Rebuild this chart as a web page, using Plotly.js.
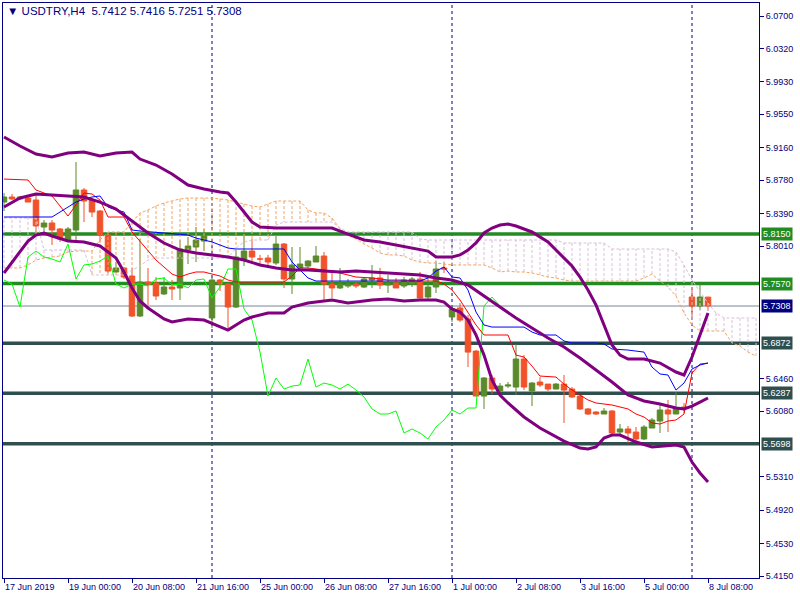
<!DOCTYPE html>
<html><head><meta charset="utf-8">
<script src="https://cdn.plot.ly/plotly-3.0.1.min.js"></script>
<style>html,body{margin:0;padding:0;background:#fff}#chart{width:800px;height:600px}</style>
</head><body><div id="chart"></div>
<script>
// ---- OHLC (H4 bars, index 0 = 17 Jun 2019 16:00) ----
const open  = [5.8524,5.8583,5.8560,5.8571,5.8548,5.8232,5.8279,5.8209,5.8080,5.8197,
5.8665,5.8548,5.8419,5.8138,5.7706,5.7753,5.7659,5.7191,5.7589,5.7577,
5.7449,5.7530,5.7519,5.7963,5.7998,5.8068,5.7168,5.7612,5.7565,5.7296,
5.7858,5.7951,5.7858,5.7869,5.7811,5.8033,5.7624,5.7753,5.7776,5.7823,
5.7893,5.7565,5.7519,5.7542,5.7565,5.7530,5.7612,5.7636,5.7554,5.7577,
5.7542,5.7565,5.7624,5.7413,5.7530,5.7753,5.7180,5.7285,5.7156,5.6781,
5.6255,5.6466,5.6314,5.6372,5.6360,5.6688,5.6314,5.6419,5.6395,5.6337,
5.6395,5.6337,5.6255,5.6104,5.6068,5.6045,5.6080,5.5834,5.5870,5.5834,
5.5753,5.5881,5.5963,5.6092,5.6045,5.6127,5.7413,5.7308,5.7412];
const high  = [5.8630,5.8618,5.8595,5.8606,5.8606,5.8314,5.8314,5.8220,5.8232,5.8992,
5.8688,5.8571,5.8431,5.8150,5.7823,5.7764,5.7753,5.8092,5.7753,5.7647,
5.7647,5.7612,5.8080,5.8115,5.8232,5.8209,5.7636,5.7624,5.7577,5.7963,
5.8162,5.8092,5.7905,5.7905,5.8127,5.8045,5.7998,5.7998,5.7846,5.8010,
5.7940,5.7694,5.7753,5.7624,5.7589,5.7636,5.7788,5.7753,5.7671,5.7636,
5.7647,5.7647,5.7706,5.7636,5.7834,5.7823,5.7320,5.7343,5.7203,5.6793,
5.6477,5.6501,5.6407,5.6419,5.6864,5.6734,5.6419,5.6477,5.6395,5.6407,
5.6501,5.6360,5.6267,5.6115,5.6080,5.6115,5.6092,5.5928,5.5905,5.5893,
5.5916,5.5998,5.6150,5.6209,5.6302,5.6174,5.7519,5.7565,5.7416];
const low   = [5.8419,5.8548,5.8548,5.8524,5.8138,5.8127,5.8022,5.8057,5.8057,5.8080,
5.8290,5.8349,5.8057,5.7694,5.7694,5.7624,5.7180,5.7180,5.7320,5.7378,
5.7437,5.7378,5.7378,5.7799,5.7823,5.7951,5.7051,5.7484,5.7039,5.7285,
5.7776,5.7834,5.7799,5.7764,5.7788,5.7519,5.7449,5.7729,5.7753,5.7823,
5.7378,5.7402,5.7507,5.7519,5.7519,5.7519,5.7519,5.7507,5.7460,5.7519,
5.7519,5.7530,5.7402,5.7378,5.7460,5.7694,5.7121,5.7121,5.6594,5.6255,
5.6104,5.6279,5.6267,5.6349,5.6267,5.6325,5.6138,5.6360,5.6314,5.6337,
5.5940,5.6232,5.6092,5.6033,5.6033,5.6045,5.5788,5.5799,5.5706,5.5729,
5.5741,5.5881,5.5823,5.5834,5.6045,5.6057,5.7180,5.7261,5.7251];
const close = [5.8583,5.8560,5.8583,5.8524,5.8244,5.8279,5.8197,5.8092,5.8209,5.8665,
5.8536,5.8407,5.8138,5.7717,5.7753,5.7647,5.7191,5.7589,5.7565,5.7425,
5.7530,5.7507,5.7975,5.8010,5.8080,5.8138,5.7612,5.7565,5.7296,5.7881,
5.7951,5.7881,5.7858,5.7823,5.8033,5.7624,5.7788,5.7799,5.7834,5.7893,
5.7565,5.7519,5.7565,5.7565,5.7542,5.7624,5.7636,5.7554,5.7565,5.7519,
5.7612,5.7624,5.7402,5.7530,5.7741,5.7741,5.7273,5.7144,5.6769,5.6255,
5.6466,5.6337,5.6372,5.6384,5.6688,5.6360,5.6407,5.6384,5.6337,5.6395,
5.6325,5.6244,5.6104,5.6045,5.6045,5.6080,5.5823,5.5870,5.5823,5.5753,
5.5893,5.5975,5.6092,5.6045,5.6115,5.6115,5.7308,5.7413,5.7308];

// ---- Bollinger Bands (bar index, price) ----
const bbUpperIdx = [0,2,4,6,8,10,12,14,16,17,19,21,23,25,27,28,29,30,31,32,34,36,38,41,43,45,47,49,51,53,54,56,57,58,59,60,61,62,63,64,66,67,68,69,70,71,72,73,74,75,76,77,78,80,82,84,85,86,87,88];
const bbUpper    = [5.9285,5.9179,5.9086,5.9051,5.9097,5.9109,5.9062,5.9097,5.9109,5.9027,5.8957,5.8852,5.8723,5.8676,5.8641,5.8630,5.8524,5.8407,5.8290,5.8232,5.8220,5.8220,5.8220,5.8220,5.8150,5.8080,5.8057,5.8022,5.7986,5.7951,5.7881,5.7881,5.7905,5.7963,5.8045,5.8162,5.8220,5.8255,5.8267,5.8244,5.8174,5.8115,5.8057,5.7963,5.7869,5.7776,5.7647,5.7495,5.7320,5.7086,5.6852,5.6734,5.6688,5.6688,5.6641,5.6536,5.6501,5.6711,5.6969,5.7226];
const bbMidIdx = [0,2,4,6,8,10,12,14,16,18,20,22,24,26,28,30,32,34,36,38,40,42,44,46,48,50,52,54,56,58,60,62,64,66,68,70,72,74,76,78,80,82,84,85,86,87,88];
const bbMid    = [5.8466,5.8571,5.8618,5.8606,5.8595,5.8583,5.8524,5.8443,5.8302,5.8162,5.8045,5.7963,5.7928,5.7905,5.7881,5.7846,5.7788,5.7753,5.7729,5.7729,5.7717,5.7706,5.7717,5.7706,5.7694,5.7682,5.7671,5.7636,5.7612,5.7554,5.7425,5.7296,5.7168,5.7051,5.6934,5.6829,5.6700,5.6560,5.6419,5.6267,5.6197,5.6162,5.6115,5.6104,5.6138,5.6185,5.6232];
const bbLowerIdx = [0,1,2,3,4,5,6,8,10,12,14,15,16,17,18,20,21,23,25,27,28,29,30,31,33,35,36,38,41,43,46,48,50,52,54,55,56,57,58,59,60,61,62,63,65,67,70,72,73,74,75,76,77,79,81,84,85,86,87,88];
const bbLower    = [5.7694,5.7823,5.7940,5.8068,5.8138,5.8162,5.8127,5.8068,5.8057,5.8010,5.7869,5.7706,5.7519,5.7367,5.7285,5.7156,5.7121,5.7156,5.7144,5.7062,5.7027,5.7086,5.7144,5.7179,5.7226,5.7226,5.7296,5.7343,5.7378,5.7343,5.7378,5.7390,5.7367,5.7378,5.7378,5.7355,5.7273,5.7238,5.7144,5.6969,5.6734,5.6443,5.6267,5.6174,5.6010,5.5881,5.5729,5.5647,5.5636,5.5659,5.5764,5.5799,5.5799,5.5717,5.5659,5.5682,5.5659,5.5483,5.5355,5.5250];

// ---- Ichimoku ----
const tenkanIdx = [0,3,4,5,6,7,8,9,10,11,12,13,15,16,17,18,19,20,21,22,23,24,25,26,27,28,29,35,36,37,38,40,42,44,46,48,50,52,54,55,56,57,58,59,60,63,64,65,66,67,69,70,71,72,73,74,76,78,79,80,81,82,83,84,85,86,87,88];
const tenkan    = [5.8793,5.8782,5.8665,5.8630,5.8595,5.8478,5.8361,5.8489,5.8630,5.8618,5.8548,5.8349,5.8349,5.8174,5.8068,5.7963,5.7846,5.7764,5.7682,5.7647,5.7682,5.7706,5.7706,5.7682,5.7659,5.7612,5.7589,5.7589,5.7659,5.7753,5.7753,5.7729,5.7694,5.7647,5.7636,5.7612,5.7612,5.7600,5.7600,5.7565,5.7495,5.7378,5.7238,5.7086,5.6969,5.6969,5.6734,5.6711,5.6606,5.6489,5.6477,5.6395,5.6325,5.6267,5.6209,5.6174,5.6150,5.6104,5.6045,5.6010,5.5940,5.5928,5.5963,5.5975,5.6045,5.6524,5.6630,5.6641];
const kijunIdx = [0,6,7,8,9,10,11,12,13,14,15,16,17,20,23,24,25,26,27,28,29,35,36,37,38,39,52,53,54,55,56,57,58,59,60,61,65,66,67,69,70,71,74,75,76,78,80,81,82,83,84,85,86,87,88];
const kijun    = [5.8349,5.8349,5.8407,5.8466,5.8524,5.8560,5.8583,5.8595,5.8466,5.8431,5.8407,5.8197,5.8185,5.8162,5.8138,5.8103,5.8080,5.8057,5.8022,5.7986,5.7975,5.7975,5.7823,5.7729,5.7636,5.7600,5.7600,5.7636,5.7717,5.7764,5.7647,5.7636,5.7495,5.7238,5.7086,5.7062,5.7062,5.7004,5.6969,5.6969,5.6899,5.6875,5.6875,5.6864,5.6805,5.6793,5.6769,5.6594,5.6513,5.6501,5.6325,5.6407,5.6571,5.6618,5.6641];
// Senkou spans, one value per bar position 0..94 (already shifted 26 bars ahead)
const spanA = [5.7753,5.7753,5.7753,5.7788,5.7846,5.7869,5.7881,5.7893,5.7940,5.7951,
5.7951,5.7951,5.8080,5.8174,5.8174,5.8174,5.8290,5.8396,5.8431,5.8478,
5.8513,5.8536,5.8560,5.8571,5.8571,5.8571,5.8571,5.8560,5.8548,5.8524,
5.8501,5.8478,5.8466,5.8501,5.8536,5.8536,5.8536,5.8536,5.8431,5.8396,
5.8396,5.8337,5.8209,5.8138,5.8092,5.8033,5.7986,5.7928,5.7905,5.7905,
5.7893,5.7846,5.7823,5.7811,5.7811,5.7799,5.7788,5.7788,5.7788,5.7788,
5.7788,5.7753,5.7706,5.7717,5.7706,5.7706,5.7694,5.7671,5.7647,5.7636,
5.7612,5.7600,5.7600,5.7600,5.7600,5.7600,5.7600,5.7600,5.7600,5.7600,
5.7636,5.7682,5.7600,5.7530,5.7425,5.7226,5.7086,5.7016,5.7016,5.7016,
5.7016,5.6875,5.6840,5.6769,5.6723];
const spanB = [5.8337,5.8337,5.8337,5.8337,5.8337,5.7963,5.7963,5.7963,5.7963,5.7963,
5.7963,5.7671,5.7671,5.7671,5.7671,5.7671,5.7729,5.7776,5.7846,5.7869,
5.7869,5.7869,5.7869,5.7869,5.7869,5.7869,5.7869,5.7869,5.7869,5.7986,
5.8057,5.8080,5.8080,5.8080,5.8255,5.8290,5.8290,5.8290,5.8290,5.8290,
5.8290,5.8290,5.8220,5.8174,5.8174,5.8174,5.8174,5.8174,5.8174,5.8174,
5.8174,5.8174,5.8092,5.8080,5.8080,5.8080,5.8080,5.8080,5.8080,5.8080,
5.8080,5.8080,5.8080,5.8080,5.8080,5.8080,5.8080,5.8080,5.8080,5.8080,
5.8045,5.8045,5.8045,5.8045,5.8045,5.8045,5.7975,5.7975,5.7975,5.7975,
5.7975,5.7975,5.7975,5.7975,5.7940,5.7788,5.7612,5.7472,5.7343,5.7226,
5.7168,5.7168,5.7168,5.7168,5.7168];
const chikouShift = 26;

// ---- levels & labels ----
const greenLevels = [5.8150, 5.7570];
const darkLevels  = [5.6872, 5.6287, 5.5698];
const lastPrice   = 5.7308;
const weekStartIdx = [26, 56, 86];
const xTickIdx  = [0,8,16,24,32,40,48,56,64,72,80,88];
const xTickText = ['17 Jun 2019','19 Jun 00:00','20 Jun 08:00','21 Jun 16:00','25 Jun 00:00','26 Jun 08:00','27 Jun 16:00','1 Jul 00:00','2 Jul 08:00','3 Jul 16:00','5 Jul 00:00','8 Jul 08:00'];
const yTickVals = [6.0700,6.0320,5.9930,5.9550,5.9160,5.8780,5.8390,5.8010,5.6460,5.6080,5.5310,5.4920,5.4530,5.4150];
const titleText = '\u25BC USDTRY,H4  5.7412 5.7416 5.7251 5.7308';

const FONT = 'Tahoma, "Liberation Sans", "DejaVu Sans", sans-serif';
const NAVY = '#000080';
const idx = open.map((_, i) => i);

// cloud hatch (vertical dotted segments every bar)
const hatchUp = {x: [], y: []}, hatchDn = {x: [], y: []};
spanA.forEach((a, i) => {
  const b = spanB[i];
  const t = a >= b ? hatchUp : hatchDn;
  t.x.push(i, i, null); t.y.push(a, b, null);
});
const chX = [], chY = [];
for (let i = chikouShift; i < close.length; i++) { chX.push(i - chikouShift); chY.push(close[i]); }
const spanIdx = spanA.map((_, i) => i);

const traces = [
  {type:'scatter', mode:'lines', x:hatchUp.x, y:hatchUp.y, line:{color:'#F4A460', width:1, dash:'3px,2px'}, hoverinfo:'skip'},
  {type:'scatter', mode:'lines', x:hatchDn.x, y:hatchDn.y, line:{color:'#D8BFD8', width:1, dash:'3px,2px'}, hoverinfo:'skip'},
  {type:'scatter', mode:'lines', x:spanIdx, y:spanA, line:{color:'#F4A460', width:1, dash:'3px,2px'}},
  {type:'scatter', mode:'lines', x:spanIdx, y:spanB, line:{color:'#D8BFD8', width:1, dash:'3px,2px'}},
  {type:'candlestick', x:idx, open:open, high:high, low:low, close:close, whiskerwidth:0,
   increasing:{line:{color:'#5A8A2A', width:1}, fillcolor:'#5A8A2A'},
   decreasing:{line:{color:'#F0522A', width:1}, fillcolor:'#F0522A'}},
  {type:'scatter', mode:'lines', x:chX, y:chY, line:{color:'#00FF00', width:1}},
  {type:'scatter', mode:'lines', x:tenkanIdx, y:tenkan, line:{color:'#FF0000', width:1}},
  {type:'scatter', mode:'lines', x:kijunIdx, y:kijun, line:{color:'#0000FF', width:1}},
  {type:'scatter', mode:'lines', x:bbUpperIdx, y:bbUpper, line:{color:'#800080', width:3}},
  {type:'scatter', mode:'lines', x:bbMidIdx, y:bbMid, line:{color:'#800080', width:3}},
  {type:'scatter', mode:'lines', x:bbLowerIdx, y:bbLower, line:{color:'#800080', width:3}}
];

const shapes = [];
weekStartIdx.forEach(v => shapes.push({type:'line', xref:'x', yref:'paper', x0:v, x1:v, y0:0, y1:1, layer:'below', line:{color:NAVY, width:1, dash:'3px,3px'}}));
shapes.push({type:'line', xref:'paper', yref:'y', x0:0, x1:1, y0:lastPrice, y1:lastPrice, layer:'below', line:{color:'#778899', width:1}});
greenLevels.forEach(v => shapes.push({type:'line', xref:'paper', yref:'y', x0:0, x1:1, y0:v, y1:v, layer:'below', line:{color:'#228B22', width:3.5}}));
darkLevels.forEach(v => shapes.push({type:'line', xref:'paper', yref:'y', x0:0, x1:1, y0:v, y1:v, layer:'below', line:{color:'#2F4F4F', width:3.5}}));

const annotations = [];
function tag(v, bg) {
  annotations.push({xref:'paper', yref:'y', x:1, y:v, xanchor:'left', yanchor:'middle', xshift:2,
    text:v.toFixed(4), showarrow:false, bgcolor:bg, borderpad:1, font:{family:FONT, size:9, color:'#FFFFFF'}});
}
greenLevels.forEach(v => tag(v, '#228B22'));
darkLevels.forEach(v => tag(v, '#2F4F4F'));
tag(lastPrice, NAVY);
annotations.push({xref:'paper', yref:'paper', x:0, y:1, xanchor:'left', yanchor:'top', xshift:2, yshift:0,
  text:titleText, showarrow:false, font:{family:FONT, size:11.5, color:NAVY}});

const layout = {
  width:800, height:600, margin:{l:3, r:41, t:3, b:22},
  paper_bgcolor:'#FFFFFF', plot_bgcolor:'#FFFFFF', showlegend:false, hovermode:false,
  boxgap:0.17, boxgroupgap:0.17,
  xaxis:{type:'linear', range:[-0.125, 94.375], showgrid:false, zeroline:false, showline:true, mirror:true,
    linecolor:NAVY, linewidth:1, ticks:'outside', ticklen:4, tickcolor:NAVY,
    tickvals:xTickIdx, ticktext:xTickText, ticklabelposition:'outside right',
    tickfont:{family:FONT, size:9, color:NAVY}, rangeslider:{visible:false}, fixedrange:true},
  yaxis:{side:'right', range:[5.4127, 6.0852], showgrid:false, zeroline:false, showline:true, mirror:true,
    linecolor:NAVY, linewidth:1, ticks:'outside', ticklen:4, tickcolor:NAVY,
    tickvals:yTickVals, ticktext:yTickVals.map(v => v.toFixed(4)),
    tickfont:{family:FONT, size:9, color:NAVY}, fixedrange:true},
  shapes:shapes, annotations:annotations
};
Plotly.newPlot('chart', traces, layout, {staticPlot:true, displayModeBar:false});
</script></body></html>
